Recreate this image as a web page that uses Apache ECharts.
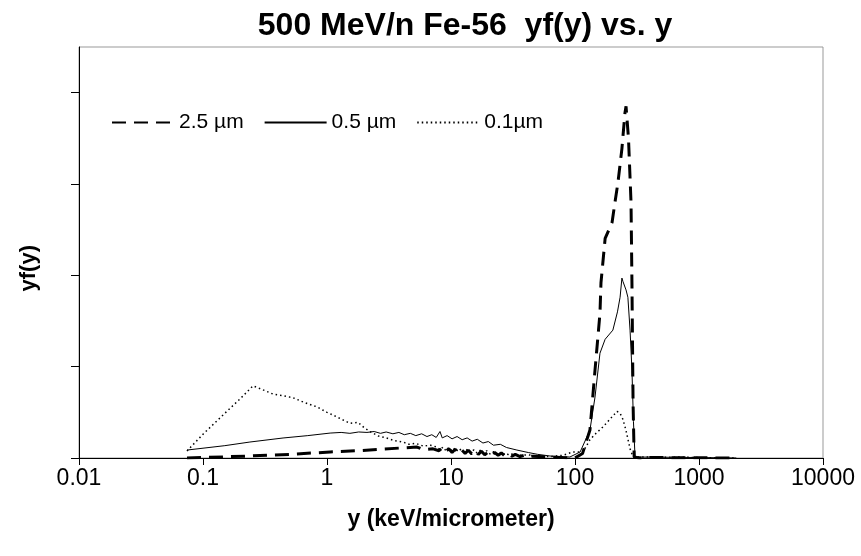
<!DOCTYPE html>
<html><head><meta charset="utf-8">
<script src="https://cdn.jsdelivr.net/npm/echarts@6/dist/echarts.min.js"></script>
<style>html,body{margin:0;padding:0;background:#fff}#c{width:861px;height:556px}</style>
</head><body><div id="c"></div>
<script>
var titleText = '500 MeV/n Fe-56  yf(y) vs. y';
var xAxisTitle = 'y (keV/micrometer)';
var yAxisTitle = 'yf(y)';
var seriesNames = ['2.5 µm', '0.5 µm', '0.1µm'];
var xTickValues = [0.01, 0.1, 1, 10, 100, 1000, 10000];
var yTickValues = [0, 1, 2, 3, 4];

var data25 = [[0.0743,0.0],[0.1,0.005],[0.239,0.022],[0.5,0.04],[1.06,0.066],[1.8,0.08],[2.83,0.098],[4,0.11],[5.32,0.12],[6,0.09],[7.16,0.1],[8,0.08],[8.5,0.11],[9,0.07],[9.6,0.1],[10.2,0.06],[10.8,0.095],[11.5,0.055],[12.2,0.09],[13,0.05],[13.8,0.085],[14.7,0.045],[15.6,0.08],[16.6,0.04],[17.6,0.075],[18.7,0.035],[19.9,0.065],[21.2,0.03],[22.5,0.06],[24,0.03],[25.5,0.055],[27,0.025],[29,0.045],[31,0.02],[33,0.04],[36,0.015],[39,0.03],[42,0.012],[45,0.02],[62.8,0.011],[80,0.005],[100,0.0],[115,0.05],[132,0.306],[145,0.962],[159,1.585],[162,1.92],[175,2.404],[199,2.579],[210,2.798],[222,3.016],[239,3.388],[253,3.781],[258,3.85],[262,3.83],[270,3.5],[283,2.8],[288,1.9],[294,0.6],[300,0.01],[330,0],[400,0.005],[2000,0]];

var data05 = [[0.0743,0.087],[0.15,0.135],[0.239,0.175],[0.442,0.219],[0.7,0.245],[1.06,0.273],[1.3,0.28],[1.53,0.27],[1.8,0.285],[2.1,0.28],[2.4,0.29],[2.7,0.27],[3.0,0.285],[3.4,0.265],[3.8,0.28],[4.2,0.255],[4.7,0.27],[5.2,0.245],[5.8,0.265],[6.4,0.235],[7.0,0.255],[7.6,0.225],[8.15,0.29],[8.5,0.22],[9.3,0.245],[10.2,0.21],[11.2,0.235],[12.3,0.2],[13.5,0.22],[14.8,0.185],[16.3,0.205],[18.1,0.164],[20,0.18],[22,0.14],[25,0.15],[28,0.115],[34,0.087],[42,0.06],[50,0.04],[62.8,0.022],[80,0.012],[91,0.011],[110,0.066],[132,0.306],[145,0.667],[159,1.148],[175,1.3],[202,1.4],[220,1.6],[231,1.76],[239,1.97],[244,1.93],[250,1.95],[258,1.84],[267,1.76],[278,1.4],[288,0.96],[296,0.4],[305,0.01],[400,0.01],[1000,0.005],[2000,0]];

var data01 = [[0.0743,0.077],[0.1,0.26],[0.15,0.49],[0.2,0.65],[0.253,0.79],[0.3,0.75],[0.367,0.70],[0.45,0.68],[0.532,0.66],[0.65,0.61],[0.83,0.56],[1.0,0.5],[1.2,0.45],[1.53,0.38],[1.78,0.39],[2.0,0.33],[2.22,0.29],[2.6,0.24],[3.0,0.22],[3.5,0.19],[4.1,0.175],[4.6,0.15],[5.2,0.16],[6,0.13],[6.8,0.14],[7.7,0.12],[8.2,0.09],[8.6,0.12],[9.1,0.08],[9.6,0.115],[10.2,0.075],[10.8,0.11],[11.4,0.07],[12.1,0.1],[12.8,0.065],[13.6,0.095],[14.4,0.06],[15.3,0.09],[16.2,0.055],[17.2,0.085],[18.3,0.05],[19.4,0.08],[20.6,0.045],[21.9,0.07],[23.2,0.04],[24.6,0.065],[26.1,0.035],[27.7,0.055],[29.4,0.03],[31.2,0.045],[35,0.03],[42,0.035],[50,0.02],[62.8,0.015],[80,0.03],[96,0.066],[116,0.066],[132,0.2],[145,0.26],[168,0.34],[190,0.42],[218,0.51],[231,0.49],[244,0.42],[258,0.3],[278,0.1],[294,0.011],[305,0],[400,0.012],[500,0.008],[700,0.01],[1000,0.004],[2000,0]];

var chart = echarts.init(document.getElementById('c'), null, {renderer: 'canvas'});
var FONT = 'Liberation Sans';
chart.setOption({
  animation: false,
  backgroundColor: '#fff',
  title: {text: titleText, left: 460, top: 5, textAlign: 'center',
    textStyle: {fontFamily: FONT, fontWeight: 'bold', fontSize: 32, color: '#000'}},
  grid: {left: 79, right: 38, top: 47, bottom: 98, show: true, borderColor: '#999', borderWidth: 1, backgroundColor: 'transparent'},
  legend: {left: 106, top: 107, itemWidth: 62, itemHeight: 14, itemGap: 20,
    itemStyle: {opacity: 0},
    textStyle: {fontFamily: FONT, fontSize: 21, color: '#000', padding: [0, 0, 0, 0]},
    data: seriesNames},
  xAxis: {type: 'log', logBase: 10, min: 0.01, max: 10000,
    name: xAxisTitle, nameLocation: 'middle', nameGap: 50,
    nameTextStyle: {fontFamily: FONT, fontWeight: 'bold', fontSize: 23, color: '#000'},
    axisLine: {onZero: false, lineStyle: {color: '#000', width: 1}},
    axisTick: {inside: false, length: 7, lineStyle: {color: '#000'}},
    minorTick: {show: false},
    splitLine: {show: false},
    axisLabel: {fontFamily: FONT, fontSize: 23, color: '#000', margin: 9,
      formatter: function (v) { return String(v); }}
  },
  yAxis: {type: 'value', min: 0, max: 4.5, interval: 1,
    axisLine: {show: true, lineStyle: {color: '#000', width: 1}},
    axisTick: {show: true, length: 8, customValues: yTickValues, lineStyle: {color: '#000'}},
    axisLabel: {show: false},
    splitLine: {show: false}
  },
  graphic: [{type: 'text', left: 18, top: 245, rotation: Math.PI / 2,
    style: {text: yAxisTitle, fontFamily: FONT, fontWeight: 'bold', fontSize: 22, fill: '#000'}}],
  series: [
    {name: seriesNames[0], type: 'line', data: data25, showSymbol: false, symbol: 'none',
      lineStyle: {color: '#000', width: 3, type: [14, 8]}, itemStyle: {color: '#000'}},
    {name: seriesNames[1], type: 'line', data: data05, showSymbol: false, symbol: 'none',
      lineStyle: {color: '#000', width: 1, type: 'solid'}, itemStyle: {color: '#000'}},
    {name: seriesNames[2], type: 'line', data: data01, showSymbol: false, symbol: 'none',
      lineStyle: {color: '#000', width: 1.5, type: [1.5, 3]}, itemStyle: {color: '#000'}}
  ]
});
</script></body></html>
